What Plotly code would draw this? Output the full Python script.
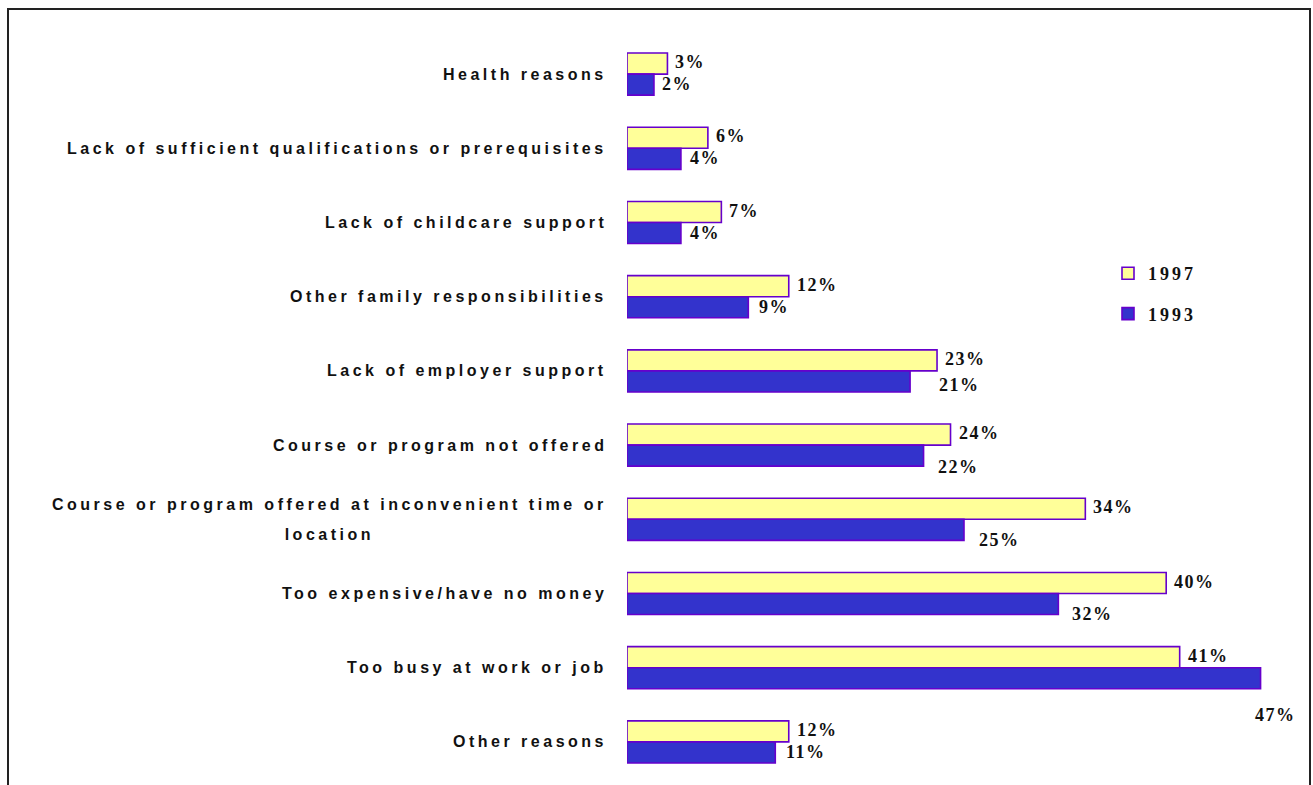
import plotly.graph_objects as go

# Reasons for not taking training, share of respondents (%)
reasons = [
    "Health reasons",
    "Lack of sufficient qualifications or prerequisites",
    "Lack of childcare support",
    "Other family responsibilities",
    "Lack of employer support",
    "Course or program not offered",
    "Course or program offered at inconvenient time or<br>location",
    "Too expensive/have no money",
    "Too busy at work or job",
    "Other reasons",
]
pct_1997 = [3, 6, 7, 12, 23, 24, 34, 40, 41, 12]
pct_1993 = [2, 4, 4, 9, 21, 22, 25, 32, 47, 11]

# pixel nudges for the 1993 value labels (x, y)
lab93_dx = [6, 7, 7, 9, 27, 12, 13, 12, -8, 9]
lab93_dy = [-10, -10, -10, -10, -14, -22, -21, -20, -47, -10]

YELLOW = "#FFFF99"
BLUE = "#3333CC"
EDGE = "#6600CC"

W, H = 1313, 785
ML, MR, MT, MB = 627, 12, 37, 6


def spaced(s, px, size=None):
    style = f"letter-spacing:{px}px"
    if size:
        style += f";font-size:{size}px"
    return f'<span style="{style}">{s}</span>'


def category_label(r):
    # each line styled separately; the outer font size sets the line pitch
    return "<br>".join(spaced(f"<b>{ln}</b>", 3.5, 16) for ln in r.split("<br>"))


fig = go.Figure()
fig.add_trace(go.Bar(
    y=reasons, x=pct_1997, orientation="h", name=spaced("<b>1997</b>", 3),
    marker=dict(color=YELLOW, line=dict(color=EDGE, width=1.6)),
    legendgroup="a",
))
fig.add_trace(go.Bar(
    y=reasons, x=pct_1993, orientation="h", name=spaced("<b>1993</b>", 3),
    marker=dict(color=BLUE, line=dict(color=EDGE, width=1.6)),
    legendgroup="b",
))

num_font = dict(family="Liberation Serif", size=18, color="#111111")
ann = []
for i, r in enumerate(reasons):
    ann.append(dict(
        x=pct_1997[i], y=r, xref="x", yref="y", text=spaced(f"<b>{pct_1997[i]}%</b>", 1.5),
        showarrow=False, xanchor="left", yanchor="middle", xshift=6, yshift=12,
        font=num_font,
    ))
    ann.append(dict(
        x=pct_1993[i], y=r, xref="x", yref="y", text=spaced(f"<b>{pct_1993[i]}%</b>", 1.5),
        showarrow=False, xanchor="left", yanchor="middle",
        xshift=lab93_dx[i], yshift=lab93_dy[i], font=num_font,
    ))
    ann.append(dict(
        x=0, y=r, xref="paper", yref="y", text=category_label(r),
        showarrow=False, xanchor="right", yanchor="middle", align="center",
        xshift=-18, font=dict(family="Liberation Sans, Arial", size=23, color="#111111"),
    ))

pw = W - ML - MR
ph = H - MT - MB
fig.add_shape(
    type="rect", xref="paper", yref="paper",
    x0=(8 - ML) / pw, x1=(1310 - ML) / pw,
    y0=-0.05, y1=1 + (MT - 9) / ph,
    line=dict(color="#222222", width=2), fillcolor="rgba(0,0,0,0)",
)

fig.update_layout(
    width=W, height=H,
    margin=dict(l=ML, r=MR, t=MT, b=MB),
    paper_bgcolor="white", plot_bgcolor="white",
    barmode="group", bargap=0.433, bargroupgap=0,
    xaxis=dict(range=[0, 50], visible=False),
    yaxis=dict(autorange="reversed", showticklabels=False, showgrid=False,
               zeroline=False, showline=False, ticks=""),
    legend=dict(
        x=(1108 - ML) / pw, y=1 - (255 - MT) / ph, xanchor="left", yanchor="top",
        traceorder="grouped", tracegroupgap=14, bgcolor="rgba(0,0,0,0)",
        font=dict(family="Liberation Serif", size=18, color="#111111"),
        itemwidth=30,
    ),
    annotations=ann,
    showlegend=True,
)

fig.write_html("out.html")
